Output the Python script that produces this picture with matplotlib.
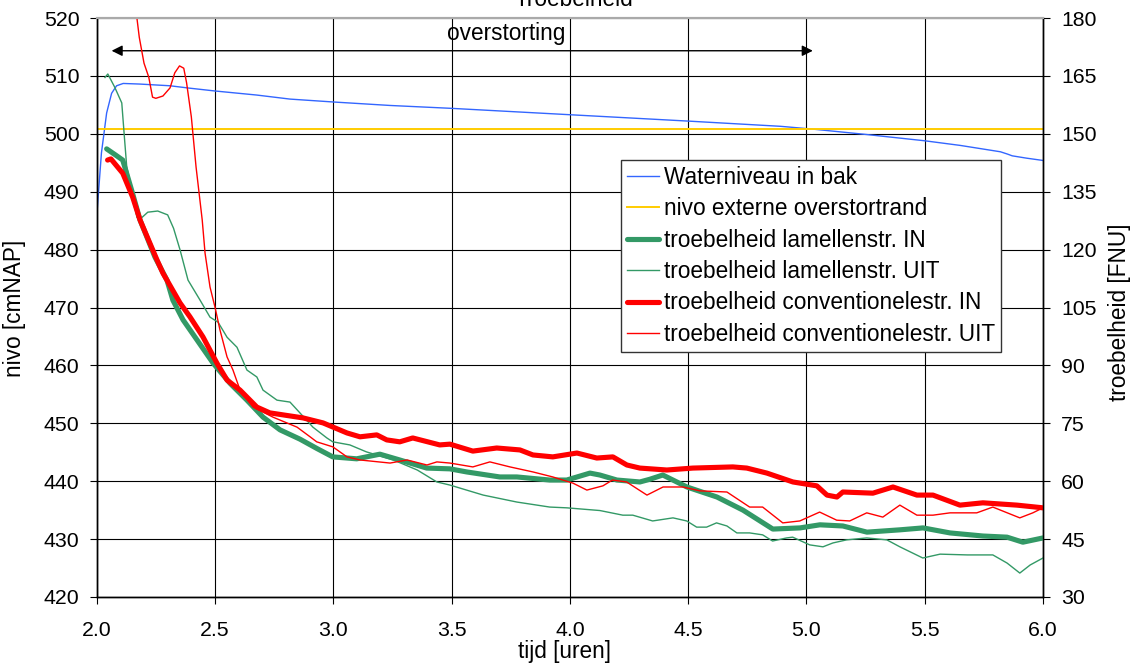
import matplotlib
matplotlib.use("Agg")
import matplotlib.pyplot as plt

plt.rcParams['font.family'] = ['Liberation Sans', 'DejaVu Sans']

# ---- data ----
t_water = [2.0, 2.02, 2.042, 2.063, 2.084, 2.112, 2.18, 2.31, 2.39, 2.5, 2.676, 2.817,
           3.0, 3.24, 3.5, 4.0, 4.5, 4.89, 5.03, 5.25, 5.5, 5.65, 5.82, 5.85, 5.87, 5.93, 6.0]
v_water = [485.7, 496.7, 503.6, 507.0, 508.3, 508.7, 508.6, 508.3, 507.9, 507.4, 506.7, 506.0,
           505.5, 504.9, 504.4, 503.3, 502.2, 501.3, 500.8, 499.9, 498.8, 498.0, 496.9, 496.5,
           496.2, 495.8, 495.4]

t_rand = [2.0, 6.0]
v_rand = [500.85, 500.85]

t_lam_in = [2.042, 2.08, 2.11, 2.15, 2.183, 2.246, 2.297, 2.322, 2.365, 2.424, 2.492, 2.563,
            2.635, 2.703, 2.775, 2.859, 2.93, 2.998, 3.099, 3.197, 3.281, 3.395, 3.493, 3.564,
            3.704, 3.776, 3.915, 3.987, 4.085, 4.127, 4.199, 4.296, 4.338, 4.393, 4.495, 4.622,
            4.732, 4.858, 4.973, 5.057, 5.154, 5.256, 5.395, 5.493, 5.607, 5.746, 5.848, 5.915, 6.0]
v_lam_in = [146.1, 144.5, 143.2, 134.9, 127.7, 118.1, 112.1, 106.9, 101.8, 96.6, 90.6, 85.4,
            81.0, 76.6, 73.3, 70.9, 68.5, 66.3, 65.8, 67.0, 65.5, 63.4, 63.2, 62.4,
            61.1, 61.1, 60.3, 60.3, 62.1, 61.6, 60.3, 59.8, 60.5, 61.6, 58.5, 55.9,
            52.5, 47.6, 47.9, 48.7, 48.4, 46.8, 47.4, 47.9, 46.6, 45.8, 45.5, 44.2, 45.3]

t_lam_uit = [2.035, 2.047, 2.076, 2.106, 2.118, 2.127, 2.152, 2.17, 2.18, 2.216,
             2.258, 2.30, 2.325, 2.352, 2.386, 2.437, 2.479, 2.513, 2.551, 2.593,
             2.635, 2.677, 2.703, 2.762, 2.817, 2.859, 2.914, 2.973, 2.998, 3.07,
             3.14, 3.254, 3.355, 3.438, 3.493, 3.634, 3.776, 3.915, 3.987, 4.127,
             4.224, 4.266, 4.35, 4.436, 4.494, 4.536, 4.578, 4.62, 4.664, 4.706,
             4.76, 4.815, 4.857, 4.916, 4.942, 5.014, 5.07, 5.112, 5.17, 5.255,
             5.34, 5.395, 5.492, 5.565, 5.68, 5.788, 5.848, 5.902, 5.946, 6.0]
v_lam_uit = [164.6, 165.5, 162.1, 158.0, 148.4, 141.4, 134.7, 128.4, 127.7, 129.7,
             130.0, 129.0, 125.5, 120.0, 112.1, 106.9, 102.5, 101.2, 97.3, 94.7,
             88.8, 87.0, 83.6, 81.0, 80.5, 77.7, 74.0, 71.2, 70.2, 69.4,
             67.6, 65.5, 62.9, 59.8, 59.0, 56.4, 54.6, 53.3, 53.1, 52.4,
             51.2, 51.2, 49.7, 50.5, 49.7, 48.1, 48.1, 49.2, 48.4, 46.6,
             46.6, 46.1, 44.5, 45.3, 45.5, 43.5, 43.0, 44.0, 44.8, 45.3,
             44.8, 43.0, 40.1, 41.1, 40.9, 40.9, 38.8, 36.2, 38.3, 40.1]

t_conv_in = [2.046, 2.06, 2.11, 2.152, 2.183, 2.255, 2.28, 2.352, 2.394, 2.449,
             2.508, 2.551, 2.606, 2.677, 2.732, 2.872, 2.957, 3.058, 3.113, 3.184,
             3.226, 3.281, 3.336, 3.45, 3.493, 3.59, 3.691, 3.789, 3.844, 3.928,
             4.03, 4.114, 4.182, 4.241, 4.296, 4.41, 4.52, 4.689, 4.748, 4.833,
             4.943, 5.044, 5.087, 5.129, 5.154, 5.281, 5.366, 5.467, 5.535, 5.649,
             5.746, 5.89, 6.0]
v_conv_in = [143.2, 143.5, 139.8, 133.6, 127.7, 117.3, 113.9, 106.2, 102.6, 97.4,
             90.6, 86.2, 83.6, 79.2, 77.7, 76.4, 75.1, 72.5, 71.5, 72.0,
             70.7, 70.2, 71.2, 69.4, 69.6, 67.8, 68.6, 68.1, 66.8, 66.3,
             67.3, 66.0, 66.3, 64.2, 63.4, 62.9, 63.4, 63.7, 63.4, 62.1,
             59.8, 58.8, 56.4, 55.9, 57.2, 56.9, 58.5, 56.4, 56.4, 53.8,
             54.4, 53.8, 53.1]

t_conv_uit = [2.15, 2.17, 2.18, 2.20, 2.22, 2.236, 2.25, 2.28, 2.31, 2.33,
              2.35, 2.368, 2.38, 2.40, 2.42, 2.446, 2.458, 2.479, 2.50, 2.521,
              2.551, 2.576, 2.606, 2.661, 2.745, 2.847, 2.902, 2.93, 2.998, 3.058,
              3.113, 3.24, 3.312, 3.396, 3.438, 3.493, 3.59, 3.662, 3.747, 3.844,
              3.928, 4.013, 4.072, 4.14, 4.18, 4.24, 4.326, 4.394, 4.478, 4.55,
              4.664, 4.76, 4.815, 4.9, 4.972, 5.056, 5.128, 5.183, 5.255, 5.323,
              5.395, 5.467, 5.535, 5.607, 5.72, 5.788, 5.902, 5.957, 6.0]
v_conv_uit = [192.0, 180.0, 175.0, 168.3, 164.7, 159.5, 159.2, 159.8, 161.9, 165.8,
              167.6, 167.0, 163.2, 154.4, 141.4, 127.7, 119.1, 110.3, 105.1, 99.2,
              92.2, 88.8, 83.6, 79.2, 76.6, 74.0, 71.5, 70.2, 68.9, 66.3,
              65.5, 64.7, 65.5, 64.2, 65.0, 64.7, 63.7, 65.0, 63.7, 62.4,
              61.1, 59.5, 57.7, 58.8, 60.3, 59.8, 56.4, 58.5, 58.5, 57.5,
              57.2, 53.3, 53.3, 49.2, 49.7, 52.0, 49.9, 49.7, 51.8, 50.7,
              53.8, 51.2, 51.2, 51.8, 51.8, 53.3, 50.5, 51.8, 53.1]

x_ticks = [2.0, 2.5, 3.0, 3.5, 4.0, 4.5, 5.0, 5.5, 6.0]
y_left_ticks = list(range(420, 521, 10))
y_right_ticks = list(range(30, 181, 15))

labels = ["Waterniveau in bak", "nivo externe overstortrand",
          "troebelheid lamellenstr. IN", "troebelheid lamellenstr. UIT",
          "troebelheid conventionelestr. IN", "troebelheid conventionelestr. UIT"]

# ---- figure ----
FS_TICK = 15.3
FS = 16.3
fig = plt.figure(figsize=(11.39, 6.68), dpi=100)
ax = fig.add_axes([0.0849, 0.1063, 0.8308, 0.8667])
ax2 = ax.twinx()

BLUE = '#3366FF'
YELLOW = '#FFCC00'
GREEN = '#339966'
RED = '#FF0000'

l1, = ax.plot(t_water, v_water, color=BLUE, lw=1.0, label=labels[0])
l2, = ax.plot(t_rand, v_rand, color=YELLOW, lw=1.4, label=labels[1])
l3, = ax2.plot(t_lam_in, v_lam_in, color=GREEN, lw=3.7, label=labels[2], solid_capstyle='round')
l4, = ax2.plot(t_lam_uit, v_lam_uit, color=GREEN, lw=1.0, label=labels[3])
l5, = ax2.plot(t_conv_in, v_conv_in, color=RED, lw=3.7, label=labels[4], solid_capstyle='round')
l6, = ax2.plot(t_conv_uit, v_conv_uit, color=RED, lw=1.0, label=labels[5])

ax.set_xlim(2.0, 6.0)
ax.set_ylim(420, 520)
ax2.set_ylim(30, 180)

ax.set_xticks(x_ticks)
ax.set_xticklabels([f"{v:.1f}" for v in x_ticks])
ax.set_yticks(y_left_ticks)
ax2.set_yticks(y_right_ticks)

ax.grid(True, color='black', lw=0.8)
ax.set_axisbelow(True)

ax.tick_params(axis='x', direction='out', length=5, width=0.8, labelsize=FS_TICK, pad=12)
ax.tick_params(axis='y', direction='out', length=5, width=0.8, labelsize=FS_TICK, pad=7.5)
ax2.tick_params(axis='y', direction='out', length=5, width=0.8, labelsize=FS_TICK, pad=8)

for a in (ax, ax2):
    for s in ('left', 'right', 'bottom'):
        a.spines[s].set_color('black')
        a.spines[s].set_linewidth(1.0)
    a.spines['top'].set_color('#aaaaaa')
    a.spines['top'].set_linewidth(1.5)

fig.text(0.013, 0.539, "nivo [cmNAP]", rotation=90, ha='center', va='center', fontsize=FS)
fig.text(0.983, 0.533, "troebelheid [FNU]", rotation=90, ha='center', va='center', fontsize=FS)
fig.text(0.496, 0.024, "tijd [uren]", ha='center', va='center', fontsize=FS)
fig.text(0.504, 0.991, "Troebelheid", ha='center', va='baseline', fontsize=FS)

ax.annotate("", xy=(2.063, 514.35), xytext=(5.027, 514.35),
            arrowprops=dict(arrowstyle='<|-|>', color='black', lw=1.0,
                            mutation_scale=16, shrinkA=0, shrinkB=0))
ax.text(3.73, 517.4, "overstorting", ha='center', va='center', fontsize=FS)

leg = ax2.legend(handles=[l1, l2, l3, l4, l5, l6], loc='upper left',
                 bbox_to_anchor=(0.554, 0.755), borderaxespad=0, fontsize=FS,
                 fancybox=False, framealpha=1, edgecolor='#333333',
                 handlelength=1.42, handletextpad=0.22, labelspacing=0.375,
                 borderpad=0.25)
leg.get_frame().set_linewidth(1.0)

fig.savefig("out.png", dpi=100)
